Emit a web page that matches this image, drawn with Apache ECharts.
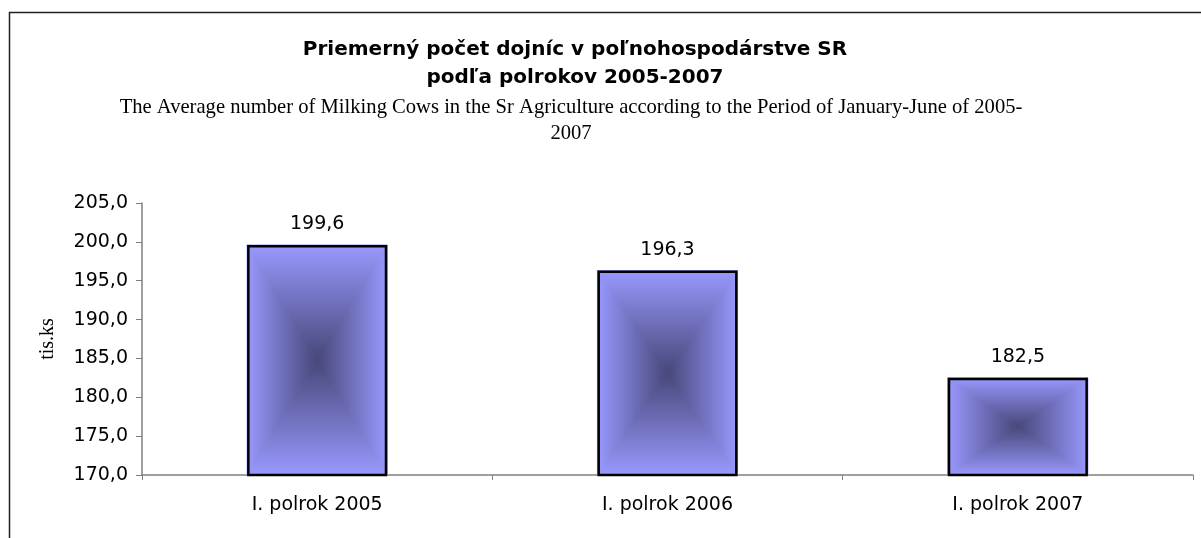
<!DOCTYPE html>
<html><head><meta charset="utf-8">
<script src="https://cdn.jsdelivr.net/npm/echarts@6/dist/echarts.min.js"></script>
<style>html,body{margin:0;padding:0;background:#fff}#c{width:1201px;height:538px}</style>
</head><body><div id="c"></div>
<script>
const categories = ['I. polrok 2005', 'I. polrok 2006', 'I. polrok 2007'];
const values = [199.6, 196.3, 182.5];
const yTicks = [170, 175, 180, 185, 190, 195, 200, 205];
const titleText = 'Priemerný počet dojníc v poľnohospodárstve SR\npodľa polrokov 2005-2007';
const subText = 'The Average number of Milking Cows in the Sr Agriculture according to the Period of January-June of 2005-\n2007';
const axisName = 'tis.ks';

const LIGHT = '#9999ff', DARK = '#474779';
const SANS = 'DejaVu Sans, Arial, sans-serif';
const SERIF = 'Liberation Serif, Times New Roman, serif';
const fmt = v => v.toFixed(1).replace('.', ',');
const chart = echarts.init(document.getElementById('c'));
const BW = 0.4;
function lg(x, y, x2, y2, a, b) {
  return new echarts.graphic.LinearGradient(x, y, x2, y2, [{offset: 0, color: a}, {offset: 1, color: b}]);
}
function tri(pts, g) {
  return {type: 'polygon', shape: {points: pts}, style: {fill: g, stroke: g, lineWidth: 1}};
}
chart.setOption({
  backgroundColor: '#fff',
  animation: false,
  title: [
    {text: titleText, left: 570, top: 31, textAlign: 'center',
     textStyle: {fontFamily: SANS, fontWeight: 'bold', fontSize: 20, lineHeight: 28, color: '#000'}},
    {text: subText, left: 566, top: 90, textAlign: 'center',
     textStyle: {fontFamily: SERIF, fontWeight: 'normal', fontSize: 20.6, lineHeight: 26, color: '#000'}}
  ],
  graphic: [{type: 'rect', shape: {x: 9.5, y: 12.5, width: 1300, height: 700},
    style: {fill: 'none', stroke: '#222', lineWidth: 1.5}, silent: true, z: -1}],
  grid: {left: 142, right: 8, top: 203, bottom: 63},
  xAxis: {type: 'category', data: categories,
    axisLine: {lineStyle: {color: '#808080', width: 1.5}},
    axisTick: {show: true, alignWithLabel: false, length: 5, lineStyle: {color: '#808080'}},
    axisLabel: {fontFamily: SANS, fontSize: 19, color: '#000', margin: 21}},
  yAxis: {type: 'value', min: yTicks[0], max: yTicks[yTicks.length - 1], interval: yTicks[1] - yTicks[0],
    name: axisName, nameLocation: 'middle', nameGap: 84, nameRotate: 90,
    nameTextStyle: {fontFamily: SERIF, fontSize: 20, color: '#000'},
    axisLine: {show: true, lineStyle: {color: '#808080', width: 1.5}},
    axisTick: {show: true, length: 6, lineStyle: {color: '#808080'}},
    splitLine: {show: false},
    axisLabel: {fontFamily: SANS, fontSize: 19, color: '#000', margin: 14, formatter: v => fmt(v)}},
  series: [
    {type: 'custom', z: 1, data: values.map((v, i) => [i, v]),
     renderItem: function (params, api) {
       const i = api.value(0), v = api.value(1);
       const top = api.coord([i, v]);
       const base = api.coord([i, yTicks[0]]);
       const w = api.size([1, 0])[0] * BW;
       const x0 = top[0] - w / 2, x1 = top[0] + w / 2, y0 = top[1], y1 = base[1];
       const cx = (x0 + x1) / 2, cy = (y0 + y1) / 2;
       return {type: 'group', children: [
         tri([[x0, y0], [x1, y0], [cx, cy]], lg(0, 0, 0, 1, LIGHT, DARK)),
         tri([[x0, y1], [x1, y1], [cx, cy]], lg(0, 0, 0, 1, DARK, LIGHT)),
         tri([[x0, y0], [x0, y1], [cx, cy]], lg(0, 0, 1, 0, LIGHT, DARK)),
         tri([[x1, y0], [x1, y1], [cx, cy]], lg(0, 0, 1, 0, DARK, LIGHT))
       ]};
     }},
    {type: 'bar', z: 2, data: values, barWidth: (BW * 100) + '%',
     itemStyle: {color: 'rgba(0,0,0,0)', borderColor: '#000', borderWidth: 2.5},
     label: {show: true, position: 'top', distance: 11, formatter: p => fmt(p.value),
       fontFamily: SANS, fontSize: 19, color: '#000'}}
  ]
});
</script></body></html>
